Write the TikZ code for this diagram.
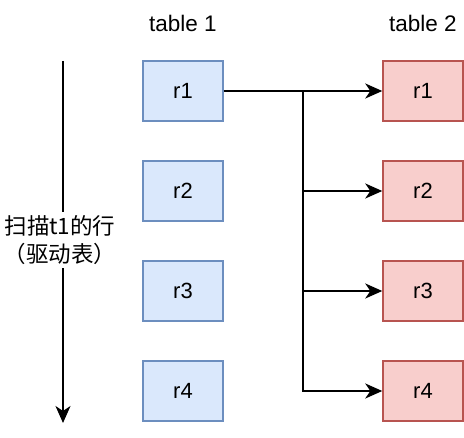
\documentclass[tikz,border=0pt]{standalone}
\usepackage{fontspec}
\setmainfont{Liberation Sans}
\newfontfamily\cjk{Noto Sans CJK SC}
\usetikzlibrary{arrows.meta}

\definecolor{bluefill}{HTML}{DAE8FC}
\definecolor{bluedraw}{HTML}{6C8EBF}
\definecolor{redfill}{HTML}{F8CECC}
\definecolor{reddraw}{HTML}{B85450}

\tikzset{every picture/.style={line width=0.75pt}}
\tikzset{
	rowa/.style={draw=bluedraw,fill=bluefill,line width=1.4pt,minimum width=80pt,minimum height=60pt,inner sep=0pt,font=\fontsize{22}{26}\selectfont},
	rowb/.style={draw=reddraw,fill=redfill,line width=1.4pt,minimum width=80pt,minimum height=60pt,inner sep=0pt,font=\fontsize{22}{26}\selectfont},
	link/.style={line width=2pt,-{Stealth[length=17pt,width=15pt,inset=5pt]}},
	title/.style={anchor=base,inner sep=0pt,font=\fontsize{22.5}{26}\selectfont}
}

\begin{document}
\begin{tikzpicture}[x=1pt,y=1pt,yscale=-1,xscale=1]
		\useasboundingbox (0,0) rectangle (464,438);
		
		%Titles
		\node [title] (ta) at (183,31.5) {table 1};
		\node [title] (tb) at (423,31.5) {table 2};
		
		%Shape: Rectangle, table 1
		\node [rowa] (a1) at (183,91) {r1};
		\node [rowa] (a2) at (183,191) {r2};
		\node [rowa] (a3) at (183,291) {r3};
		\node [rowa] (a4) at (183,391) {r4};
		%Shape: Rectangle, table 2
		\node [rowb] (b1) at (423,91) {r1};
		\node [rowb] (b2) at (423,191) {r2};
		\node [rowb] (b3) at (423,291) {r3};
		\node [rowb] (b4) at (423,391) {r4};
		
		%scan direction
		\coordinate (top) at (63,61);
		\coordinate (bot) at (63,423);
		\draw [link] (top) -- (bot);
		\node [fill=white,inner xsep=1pt,inner ysep=3pt,align=center,font=\cjk\fontsize{22.5}{28}\selectfont] (scan) at (60,240) {扫描t1的行\\（驱动表）};
		
		%joins
		\coordinate (split) at (303,91);
		\draw [link] (a1) -- (b1);
		\draw [link] (split) |- (b4);
		\draw [link] (split |- b2) -- (b2);
		\draw [link] (split |- b3) -- (b3);
		
\end{tikzpicture}
\end{document}
